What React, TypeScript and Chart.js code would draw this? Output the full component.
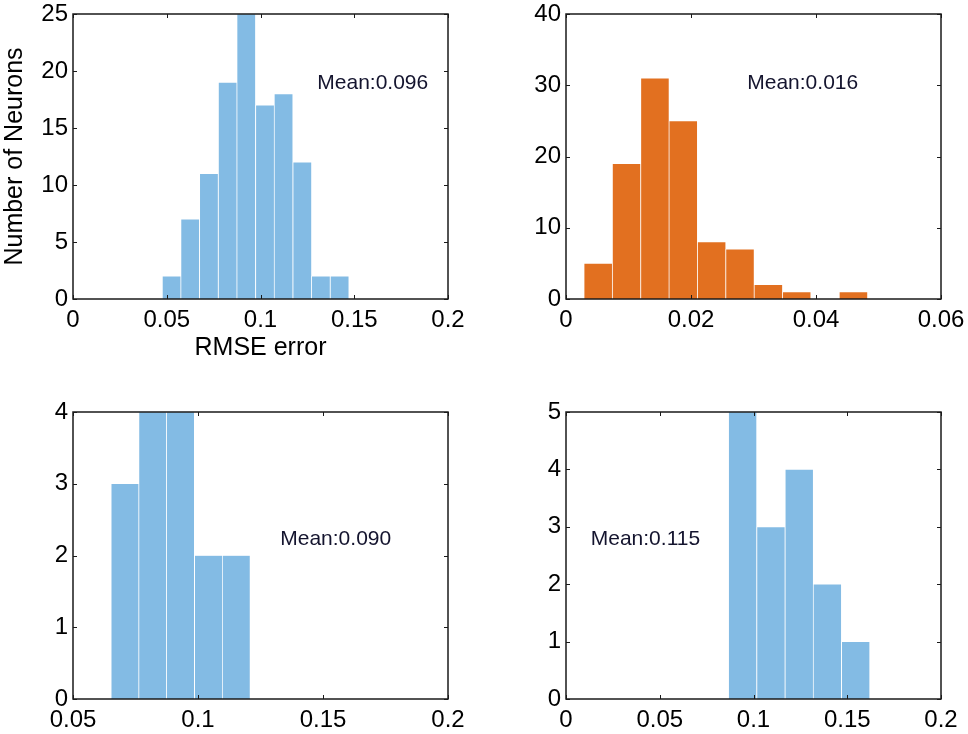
import React, { useEffect, useRef } from "react";
import { Chart, registerables } from "chart.js";

Chart.register(...registerables);

// ---- Data ----
const p1BinCenters = [0.0526, 0.0625, 0.0725, 0.0825, 0.0924, 0.1024, 0.1123, 0.1223, 0.1322, 0.1422];
const p1Counts = [2, 7, 11, 19, 25, 17, 18, 12, 2, 2];

const p2BinCenters = [0.00515, 0.00969, 0.01423, 0.01876, 0.0233, 0.02784, 0.03238, 0.03691, 0.04145, 0.04599];
const p2Counts = [5, 19, 31, 25, 8, 7, 2, 1, 0, 1];

const p3BinCenters = [0.0708, 0.0819, 0.093, 0.1042, 0.1153];
const p3Counts = [3, 4, 4, 2, 2];

const p4BinCenters = [0.0942, 0.1093, 0.1244, 0.1394, 0.1545];
const p4Counts = [5, 3, 4, 2, 1];

const meanLabels = ["Mean:0.096", "Mean:0.016", "Mean:0.090", "Mean:0.115"];
const xAxisTitle = "RMSE error";
const yAxisTitle = "Number of Neurons";

const BLUE = "#83bbe4";
const ORANGE = "#e27020";
const FONT = "'Liberation Sans', Arial, Helvetica, sans-serif";

type PanelCfg = {
  centers: number[];
  counts: number[];
  color: string;
  canvas: { x: number; y: number; w: number; h: number };
  area: { l: number; t: number; r: number; b: number };
  xMin: number;
  xMax: number;
  xStep: number;
  yMax: number;
  yStep: number;
  mean: string;
  meanPos: { x: number; y: number };
  titles: boolean;
};

const panels: PanelCfg[] = [
  {
    centers: p1BinCenters,
    counts: p1Counts,
    color: BLUE,
    canvas: { x: 0, y: 0, w: 484, h: 367 },
    area: { l: 73, t: 14, r: 448, b: 299 },
    xMin: 0, xMax: 0.2, xStep: 0.05,
    yMax: 25, yStep: 5,
    mean: meanLabels[0],
    meanPos: { x: 0.1303, y: 18.97 },
    titles: true,
  },
  {
    centers: p2BinCenters,
    counts: p2Counts,
    color: ORANGE,
    canvas: { x: 484, y: 0, w: 484, h: 367 },
    area: { l: 566, t: 14, r: 941, b: 299 },
    xMin: 0, xMax: 0.06, xStep: 0.02,
    yMax: 40, yStep: 10,
    mean: meanLabels[1],
    meanPos: { x: 0.029, y: 30.3 },
    titles: false,
  },
  {
    centers: p3BinCenters,
    counts: p3Counts,
    color: BLUE,
    canvas: { x: 0, y: 367, w: 484, h: 367 },
    area: { l: 73, t: 412, r: 448, b: 699 },
    xMin: 0.05, xMax: 0.2, xStep: 0.05,
    yMax: 4, yStep: 1,
    mean: meanLabels[2],
    meanPos: { x: 0.1329, y: 2.226 },
    titles: false,
  },
  {
    centers: p4BinCenters,
    counts: p4Counts,
    color: BLUE,
    canvas: { x: 484, y: 367, w: 484, h: 367 },
    area: { l: 566, t: 412, r: 941, b: 699 },
    xMin: 0, xMax: 0.2, xStep: 0.05,
    yMax: 5, yStep: 1,
    mean: meanLabels[3],
    meanPos: { x: 0.0132, y: 2.78 },
    titles: false,
  },
];

const fmt = (v: number | string) => String(Number(Number(v).toFixed(4)));

const framePlugin = {
  id: "matlabFrame",
  afterDatasetsDraw(chart: any, _args: any, opts: any) {
    const { ctx, chartArea } = chart;
    const xs = chart.scales.x;
    const ys = chart.scales.y;
    const { left, right, top, bottom } = chartArea;
    ctx.save();
    ctx.strokeStyle = "#1a1a1a";
    ctx.lineWidth = 1.5;
    ctx.strokeRect(left, top, right - left, bottom - top);
    ctx.lineWidth = 1;
    const tl = 4;
    ctx.beginPath();
    xs.ticks.forEach((t: any) => {
      const px = Math.round(xs.getPixelForValue(t.value)) + 0.5;
      ctx.moveTo(px, bottom);
      ctx.lineTo(px, bottom - tl);
      ctx.moveTo(px, top);
      ctx.lineTo(px, top + tl);
    });
    ys.ticks.forEach((t: any) => {
      const py = Math.round(ys.getPixelForValue(t.value)) + 0.5;
      ctx.moveTo(left, py);
      ctx.lineTo(left + tl, py);
      ctx.moveTo(right, py);
      ctx.lineTo(right - tl, py);
    });
    ctx.stroke();
    if (opts && opts.text) {
      ctx.fillStyle = "#14142e";
      ctx.font = `21px ${FONT}`;
      ctx.textAlign = "left";
      ctx.textBaseline = "middle";
      ctx.fillText(opts.text, xs.getPixelForValue(opts.x), ys.getPixelForValue(opts.y));
    }
    ctx.restore();
  },
};

function Panel({ cfg }: { cfg: PanelCfg }) {
  const ref = useRef<HTMLCanvasElement | null>(null);
  useEffect(() => {
    if (!ref.current) return;
    const c = cfg;
    const chart = new Chart(ref.current, {
      type: "bar",
      data: {
        datasets: [
          {
            data: c.centers.map((x, i) => ({ x, y: c.counts[i] })),
            backgroundColor: c.color,
            borderColor: "#ffffff",
            borderWidth: 0.7,
            borderSkipped: "bottom",
            barPercentage: 1,
            categoryPercentage: 1,
          } as any,
        ],
      },
      options: {
        responsive: false,
        animation: false,
        devicePixelRatio: 1,
        layout: {
          padding: {
            left: 0,
            top: c.area.t - c.canvas.y,
            right: c.canvas.x + c.canvas.w - c.area.r,
            bottom: 0,
          },
        },
        plugins: {
          legend: { display: false },
          tooltip: { enabled: false },
          matlabFrame: { text: c.mean, x: c.meanPos.x, y: c.meanPos.y },
        } as any,
        scales: {
          x: {
            type: "linear",
            min: c.xMin,
            max: c.xMax,
            offset: false,
            grid: { display: false, drawTicks: false },
            border: { display: false },
            ticks: {
              stepSize: c.xStep,
              autoSkip: false,
              maxRotation: 0,
              padding: 7,
              color: "#000",
              font: { family: FONT, size: 24 },
              callback: (v: any) => fmt(v),
            },
            title: {
              display: c.titles,
              text: xAxisTitle,
              color: "#000",
              font: { family: FONT, size: 25 },
              padding: { top: 0, bottom: 4 },
            },
            afterFit: (s: any) => {
              s.height = c.canvas.y + c.canvas.h - c.area.b;
              s.paddingLeft = 0;
              s.paddingRight = 0;
            },
          },
          y: {
            type: "linear",
            min: 0,
            max: c.yMax,
            grid: { display: false, drawTicks: false },
            border: { display: false },
            ticks: {
              stepSize: c.yStep,
              autoSkip: false,
              padding: 5,
              color: "#000",
              font: { family: FONT, size: 24 },
              callback: (v: any) => fmt(v),
            },
            title: {
              display: c.titles,
              text: yAxisTitle,
              color: "#000",
              font: { family: FONT, size: 25 },
              padding: { top: 0, bottom: 0 },
            },
            afterFit: (s: any) => {
              s.width = c.area.l - c.canvas.x;
              s.paddingTop = 0;
              s.paddingBottom = 0;
            },
          },
        },
      } as any,
      plugins: [framePlugin],
    });
    return () => chart.destroy();
  }, [cfg]);
  return (
    <canvas
      ref={ref}
      width={cfg.canvas.w}
      height={cfg.canvas.h}
      style={{
        position: "absolute",
        left: cfg.canvas.x,
        top: cfg.canvas.y,
        width: cfg.canvas.w,
        height: cfg.canvas.h,
      }}
    />
  );
}

export default function App() {
  return (
    <div
      style={{
        position: "fixed",
        left: 0,
        top: 0,
        width: 968,
        height: 734,
        background: "#ffffff",
        overflow: "hidden",
      }}
    >
      {panels.map((p, i) => (
        <Panel key={i} cfg={p} />
      ))}
    </div>
  );
}
